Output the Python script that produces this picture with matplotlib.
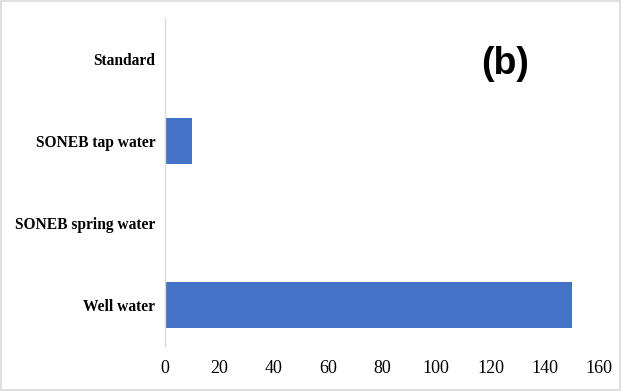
import matplotlib
matplotlib.use("Agg")
import matplotlib.pyplot as plt
from matplotlib.patches import Rectangle

categories = ["Well water", "SONEB spring water", "SONEB tap water", "Standard"]
values = [150, 0, 10, 0]
xticks = [0, 20, 40, 60, 80, 100, 120, 140, 160]

fig = plt.figure(figsize=(6.22, 3.91), dpi=100)
ax = fig.add_axes([0.2653, 0.1151, 0.6977, 0.839])
ax.barh(range(len(categories)), values, height=0.56, color="#4472C4")
ax.set_ylim(-0.5, len(categories) - 0.5)
ax.set_xlim(0, 160)
ax.set_yticks(range(len(categories)))
ax.set_yticklabels(categories, fontfamily="Liberation Serif", fontweight="bold", fontsize=11.2)
ax.set_xticks(xticks)
ax.set_xticklabels([str(t) for t in xticks], fontfamily="Liberation Serif", fontsize=13)
for s in ["top", "right", "bottom"]:
    ax.spines[s].set_visible(False)
ax.spines["left"].set_color("#D9D9D9")
ax.spines["left"].set_linewidth(1.0)
ax.tick_params(axis="both", length=0)
ax.tick_params(axis="y", pad=7)
ax.tick_params(axis="x", pad=10)
fig.text(0.812, 0.836, "(b)", fontfamily="Liberation Sans", fontweight="bold", fontsize=27,
         ha="center", va="center")
fig.patches.append(Rectangle((0.002, 0.003), 0.995, 0.994, transform=fig.transFigure,
                             fill=False, edgecolor="#D9D9D9", linewidth=1.2))
fig.savefig("out.png", dpi=100)
